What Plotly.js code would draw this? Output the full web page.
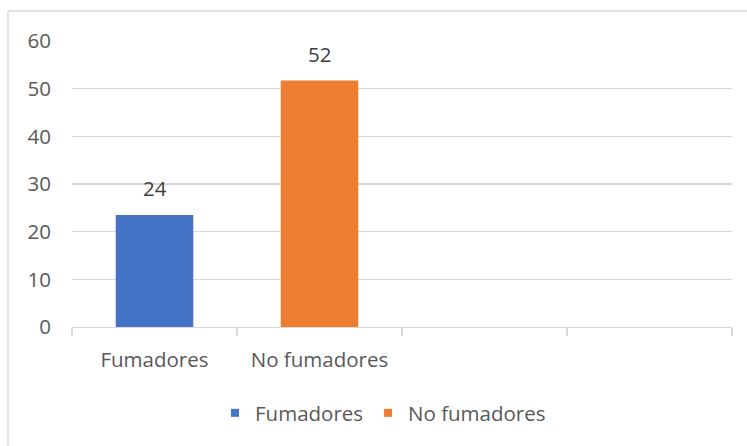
<!DOCTYPE html>
<html>
<head>
<meta charset="utf-8">
<script src="https://cdn.plot.ly/plotly-3.0.1.min.js"></script>
<style>
  html, body { margin: 0; padding: 0; background: #ffffff; }
  #chart { width: 747px; height: 446px; }
</style>
</head>
<body>
<div id="chart"></div>
<script>
// ---- data ----
const categories = ["Fumadores", "No fumadores"];
const values = [23.5, 51.7];
const valueLabels = ["24", "52"];
const seriesColors = ["#4472C4", "#ED7D31"];
const yTicks = [0, 10, 20, 30, 40, 50, 60];
const slotCount = 4;

// ---- layout geometry ----
const W = 747, H = 446;
const M = { l: 72, r: 15, t: 41, b: 119 };
const plotW = W - M.l - M.r;
const plotH = H - M.t - M.b;
const px2paperX = (px) => (px - M.l) / plotW;
const px2paperY = (py) => (H - M.b - py) / plotH;

const FONT = "Open Sans, Noto Sans, DejaVu Sans, sans-serif";
const FS = 20.5;

const traces = [];
categories.forEach((c, i) => {
  traces.push({
    type: "bar",
    x: [i],
    y: [values[i]],
    name: c,
    width: 0.47,
    marker: { color: seriesColors[i] },
    showlegend: false,
    hoverinfo: "skip"
  });
});
// legend entries (small square markers)
categories.forEach((c, i) => {
  traces.push({
    type: "scatter",
    mode: "markers",
    x: [null],
    y: [null],
    name: c,
    marker: { symbol: "square", size: 8, color: seriesColors[i] },
    showlegend: true,
    hoverinfo: "skip"
  });
});

const boundaries = [];
for (let k = 0; k <= slotCount; k++) boundaries.push(k - 0.5);

const annotations = categories.map((c, i) => ({
  x: i,
  y: values[i],
  xref: "x",
  yref: "y",
  text: valueLabels[i],
  showarrow: false,
  yanchor: "middle",
  yshift: 27,
  font: { family: FONT, size: FS, color: "#404040" }
}));

const layout = {
  width: W,
  height: H,
  margin: M,
  paper_bgcolor: "#ffffff",
  plot_bgcolor: "#ffffff",
  barmode: "overlay",
  showlegend: true,
  legend: {
    orientation: "h",
    x: px2paperX(215),
    xanchor: "left",
    y: px2paperY(413),
    yanchor: "middle",
    font: { family: FONT, size: FS, color: "#595959" },
    bgcolor: "rgba(0,0,0,0)"
  },
  xaxis: {
    range: [-0.5, slotCount - 0.5],
    tickmode: "array",
    tickvals: categories.map((c, i) => i),
    ticktext: categories,
    ticks: "",
    ticklabelstandoff: 14,
    showgrid: false,
    zeroline: false,
    showline: true,
    linecolor: "#d9d9d9",
    linewidth: 1.3,
    tickfont: { family: FONT, size: FS, color: "#595959" },
    minor: {
      tickmode: "array",
      tickvals: boundaries,
      ticks: "outside",
      ticklen: 8,
      tickwidth: 1.3,
      tickcolor: "#d9d9d9",
      showgrid: false
    },
    fixedrange: true
  },
  yaxis: {
    range: [0, 60],
    tickmode: "array",
    tickvals: yTicks,
    ticktext: yTicks.map(String),
    ticks: "",
    ticklabelstandoff: 20,
    showgrid: true,
    gridcolor: "#d9d9d9",
    gridwidth: 1.3,
    zeroline: false,
    showline: false,
    tickfont: { family: FONT, size: FS, color: "#595959" },
    fixedrange: true
  },
  annotations: annotations,
  shapes: [
    {
      type: "line", xref: "paper", yref: "paper", layer: "below",
      x0: px2paperX(8), x1: px2paperX(8), y0: px2paperY(11), y1: px2paperY(470),
      line: { color: "#d9d9d9", width: 1.3 }
    },
    {
      type: "line", xref: "paper", yref: "paper", layer: "below",
      x0: px2paperX(8), x1: px2paperX(770), y0: px2paperY(11), y1: px2paperY(11),
      line: { color: "#d9d9d9", width: 1.3 }
    }
  ]
};

Plotly.newPlot("chart", traces, layout, { displayModeBar: false, staticPlot: true });
</script>
</body>
</html>
